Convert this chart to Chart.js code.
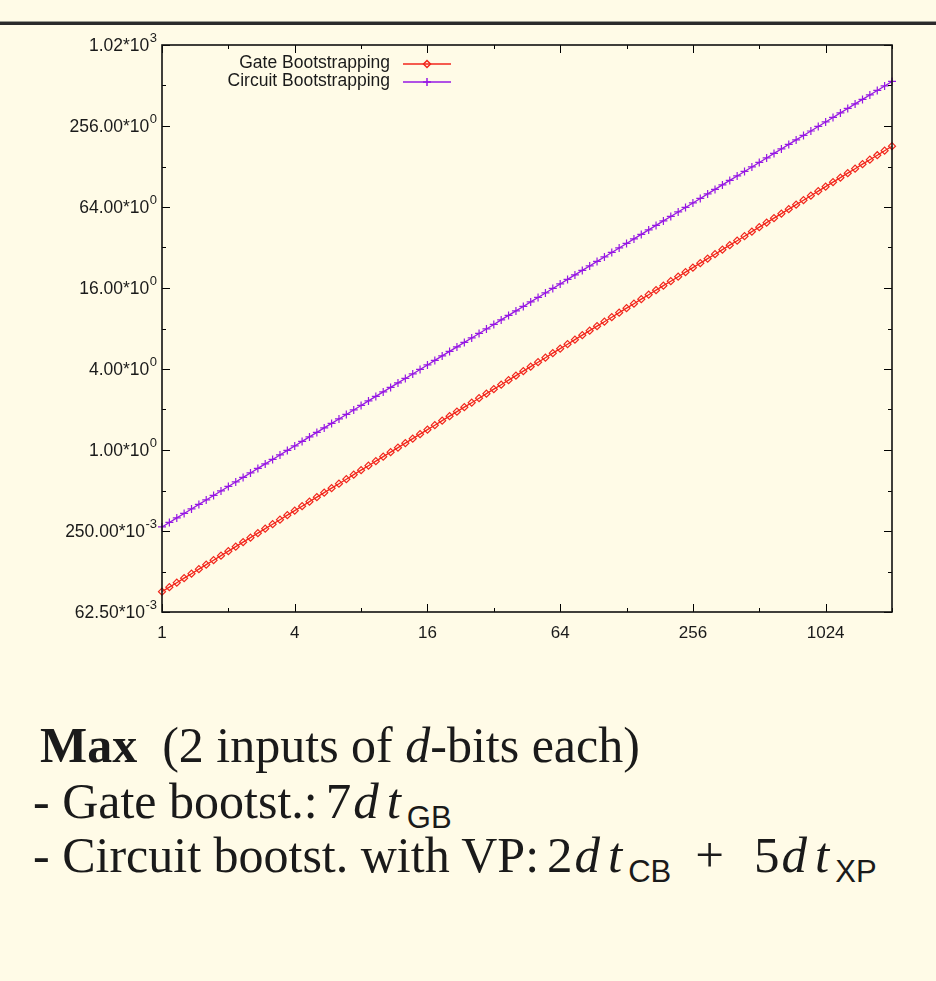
<!DOCTYPE html>
<html>
<head>
<meta charset="utf-8">
<script src="https://cdn.jsdelivr.net/npm/chart.js@4.4.1/dist/chart.umd.min.js"></script>
<style>
    html, body { margin: 0; padding: 0; background: #fffbe7; }
    body { width: 936px; height: 981px; position: relative; overflow: hidden; }
    .rule { position: absolute; left: 0; top: 21px; width: 936px; height: 3px; background: #2b2b2b; border-top: 1px solid #9a9a90; }
    .plot { position: absolute; left: 0; top: 0; width: 936px; height: 660px; }
    .line { position: absolute; white-space: nowrap; font-family: "Liberation Serif", serif; font-size: 50px; color: #1a1a1a; line-height: 1; }
    .m { font-size: 51px; }
    .m .n { margin-left: 8px; margin-right: 2px; }
    .m i { letter-spacing: 8px; }
    .m .op { margin: 0 30px 0 24px; }
    .m sub { font-family: "Liberation Sans", sans-serif; font-size: 31px; vertical-align: -10px; line-height: 0; margin-left: -2px; }
</style>
</head>
<body>
<div class="rule"></div>
<div class="plot"><canvas id="grafico"></canvas></div>
<div class="line" style="left:40px; top:720px;"><b>Max</b>&nbsp; (2 inputs of <i>d</i>-bits each)</div>
<div class="line" style="left:33px; top:776px;">- Gate bootst.:<span class="m"><span class="n">7</span><i>dt</i><sub>GB</sub></span></div>
<div class="line" style="left:33px; top:830px;">- Circuit bootst. with VP:<span class="m"><span class="n">2</span><i>dt</i><sub>CB</sub><span class="op">+</span><span class="n" style="margin-left:0">5</span><i>dt</i><sub>XP</sub></span></div>
<script>
// d (bits), muestreado en escala log
const dValues = [
    1, 1.080, 1.167, 1.260, 1.361, 1.470, 1.587, 1.714, 1.852,
    2, 2.160, 2.333, 2.520, 2.722, 2.939, 3.175, 3.429, 3.703,
    4, 4.320, 4.666, 5.040, 5.443, 5.879, 6.350, 6.858, 7.407,
    8, 8.641, 9.332, 10.08, 10.89, 11.76, 12.70, 13.72, 14.81,
    16, 17.28, 18.66, 20.16, 21.77, 23.52, 25.40, 27.43, 29.63,
    32, 34.56, 37.33, 40.32, 43.55, 47.03, 50.80, 54.86, 59.25,
    64, 69.13, 74.66, 80.63, 87.09, 94.06, 101.6, 109.7, 118.5,
    128, 138.3, 149.3, 161.3, 174.2, 188.1, 203.2, 219.5, 237.0,
    256, 276.5, 298.6, 322.5, 348.4, 376.2, 406.4, 438.9, 474.0,
    512, 553.0, 597.2, 645.1, 696.7, 752.5, 812.7, 877.8, 948.1,
    1024, 1106, 1195, 1290, 1393, 1505, 1625, 1756, 1896,
    2048,
];
const gateTimes = [
    0.0885, 0.0956, 0.1032, 0.1115, 0.1204, 0.1301, 0.1405, 0.1517, 0.1639,
    0.177, 0.1912, 0.2066, 0.2230, 0.2409, 0.2602, 0.2809, 0.3034, 0.3278,
    0.354, 0.3823, 0.4131, 0.4460, 0.4818, 0.5204, 0.5618, 0.6068, 0.6556,
    0.708, 0.7646, 0.8262, 0.892, 0.9636, 1.041, 1.124, 1.214, 1.311,
    1.416, 1.529, 1.652, 1.784, 1.927, 2.082, 2.247, 2.427, 2.622,
    2.832, 3.058, 3.305, 3.568, 3.854, 4.163, 4.494, 4.854, 5.245,
    5.664, 6.117, 6.610, 7.136, 7.709, 8.326, 8.989, 9.709, 10.49,
    11.33, 12.23, 13.22, 14.27, 15.42, 16.65, 17.98, 19.42, 20.98,
    22.66, 24.47, 26.44, 28.54, 30.83, 33.30, 35.96, 38.84, 41.96,
    45.31, 48.94, 52.88, 57.09, 61.67, 66.61, 71.91, 77.67, 83.92,
    90.62, 97.88, 105.8, 114.2, 123.3, 133.2, 143.8, 155.3, 167.8,
    181.2,
];
const circuitTimes = [
    0.268, 0.2894, 0.3128, 0.3377, 0.3647, 0.3940, 0.4253, 0.4594, 0.4963,
    0.536, 0.5789, 0.6255, 0.6754, 0.7295, 0.7879, 0.8506, 0.9187, 0.9927,
    1.072, 1.158, 1.251, 1.351, 1.459, 1.576, 1.701, 1.837, 1.985,
    2.144, 2.316, 2.502, 2.702, 2.918, 3.152, 3.402, 3.674, 3.970,
    4.288, 4.632, 5.004, 5.404, 5.836, 6.304, 6.804, 7.348, 7.940,
    8.576, 9.264, 10.01, 10.81, 11.67, 12.61, 13.61, 14.70, 15.88,
    17.15, 18.53, 20.02, 21.62, 23.34, 25.22, 27.22, 29.39, 31.76,
    34.30, 37.06, 40.03, 43.23, 46.69, 50.43, 54.43, 58.78, 63.52,
    68.61, 74.11, 80.06, 86.46, 93.38, 100.9, 108.9, 117.6, 127.0,
    137.2, 148.2, 160.1, 172.9, 186.8, 201.7, 217.7, 235.1, 254.1,
    274.4, 296.4, 320.2, 345.8, 373.5, 403.4, 435.5, 470.3, 508.1,
    548.9,
];

const xMajorTicks = [1, 4, 16, 64, 256, 1024];
const xMinorTicks = [2, 8, 32, 128, 512, 2048];
const yMajorTicks = [0.0625, 0.25, 1, 4, 16, 64, 256, 1024];
const yMinorTicks = [0.125, 0.5, 2, 8, 32, 128, 512];
const yTickMantissas = ["62.50", "250.00", "1.00", "4.00", "16.00", "64.00", "256.00", "1.02"];
const yTickExponents = ["-3", "-3", "0", "0", "0", "0", "0", "3"];

const FONT = "'Liberation Sans', Arial, sans-serif";

function puntos(ys) {
    return dValues.map(function (d, i) { return { x: d, y: ys[i] }; });
}

// marco estilo gnuplot: borde, ticks hacia adentro, etiquetas y con exponente, leyenda
const gnuplotFrame = {
    id: "gnuplotFrame",
    afterDraw(chart) {
        const ctx = chart.ctx;
        const a = chart.chartArea;
        const x = chart.scales.x;
        const y = chart.scales.y;
        ctx.save();
        ctx.strokeStyle = "#000";
        ctx.lineWidth = 1;
        function seg(x1, y1, x2, y2) {
            ctx.beginPath();
            ctx.moveTo(x1, y1);
            ctx.lineTo(x2, y2);
            ctx.stroke();
        }
        function tickX(v, len) {
            const px = Math.round(x.getPixelForValue(v)) + 0.5;
            seg(px, a.bottom, px, a.bottom - len);
            seg(px, a.top, px, a.top + len);
        }
        function tickY(v, len) {
            const py = Math.round(y.getPixelForValue(v)) + 0.5;
            seg(a.left, py, a.left + len, py);
            seg(a.right, py, a.right - len, py);
        }
        xMajorTicks.forEach(function (v) { tickX(v, 8); });
        xMinorTicks.forEach(function (v) { tickX(v, 4); });
        yMajorTicks.forEach(function (v) { tickY(v, 8); });
        yMinorTicks.forEach(function (v) { tickY(v, 4); });

        ctx.lineWidth = 1.6;
        ctx.strokeStyle = "#111";
        ctx.strokeRect(a.left, a.top, a.right - a.left, a.bottom - a.top);

        // etiquetas eje y
        ctx.fillStyle = "#1a1a1a";
        ctx.textBaseline = "middle";
        ctx.textAlign = "right";
        yMajorTicks.forEach(function (v, i) {
            const py = y.getPixelForValue(v);
            ctx.font = "13px " + FONT;
            const supW = ctx.measureText(yTickExponents[i]).width;
            const right = a.left - 5;
            ctx.fillText(yTickExponents[i], right, py - 7);
            ctx.font = "17.5px " + FONT;
            ctx.fillText(yTickMantissas[i] + "*10", right - supW - 0.5, py + 1);
        });

        // leyenda
        chart.data.datasets.forEach(function (ds, i) {
            const ly = 63 + i * 18;
            ctx.font = "17.5px " + FONT;
            ctx.fillStyle = "#1a1a1a";
            ctx.textAlign = "right";
            ctx.fillText(ds.label, 390, ly);
            ctx.strokeStyle = ds.borderColor;
            ctx.fillStyle = "rgba(0,0,0,0)";
            ctx.lineWidth = 1.5;
            seg(403, ly + 1, 451, ly + 1);
            Chart.helpers.drawPoint(ctx, {
                pointStyle: ds.pointStyle,
                radius: ds.pointRadius,
                borderWidth: 1.2,
                rotation: 0,
            }, 427, ly + 1);
        });
        ctx.restore();
    },
};

new Chart(document.getElementById("grafico"), {
    type: "line",
    data: {
        datasets: [
            {
                label: "Gate Bootstrapping",
                data: puntos(gateTimes),
                borderColor: "rgb(242, 38, 28)",
                backgroundColor: "transparent",
                borderWidth: 1.3,
                pointStyle: "rectRot",
                pointRadius: 3.5,
                pointBorderWidth: 1.2,
                pointBackgroundColor: "transparent",
                clip: false,
            },
            {
                label: "Circuit Bootstrapping",
                data: puntos(circuitTimes),
                borderColor: "rgb(150, 24, 228)",
                backgroundColor: "transparent",
                borderWidth: 1.3,
                pointStyle: "cross",
                pointRadius: 4,
                pointBorderWidth: 1.2,
                clip: false,
            },
        ],
    },
    options: {
        responsive: true,
        maintainAspectRatio: false,
        animation: false,
        layout: { padding: { left: 0, right: 44, top: 45, bottom: 0 } },
        scales: {
            x: {
                type: "logarithmic",
                min: 1,
                max: 2048,
                grid: { display: false },
                border: { display: false },
                afterBuildTicks: function (scale) {
                    scale.ticks = xMajorTicks.concat(xMinorTicks)
                        .sort(function (p, q) { return p - q; })
                        .map(function (v) { return { value: v }; });
                },
                afterFit: function (scale) { scale.height = 48; },
                ticks: {
                    autoSkip: false,
                    maxRotation: 0,
                    padding: 3,
                    color: "#1a1a1a",
                    font: { family: FONT, size: 17 },
                    callback: function (value) {
                        return xMajorTicks.includes(value) ? String(value) : "";
                    },
                },
            },
            y: {
                type: "logarithmic",
                min: 0.0625,
                max: 1024,
                grid: { display: false },
                border: { display: false },
                afterBuildTicks: function (scale) {
                    scale.ticks = yMajorTicks.map(function (v) { return { value: v }; });
                },
                afterFit: function (scale) { scale.width = 162; },
                ticks: { display: false },
            },
        },
        plugins: {
            legend: { display: false },
            tooltip: { enabled: false },
        },
    },
    plugins: [gnuplotFrame],
});
</script>
</body>
</html>
